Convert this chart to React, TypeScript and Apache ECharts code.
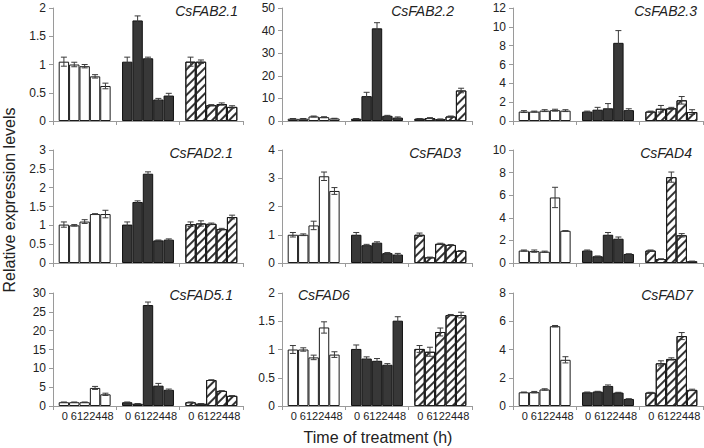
import React, { useEffect, useRef } from 'react';
import * as echarts from 'echarts';

// groups (white, dark, hatched) and time points
const groupNames = ['Group 1', 'Group 2', 'Group 3'];
const timeLabels = ['0', '6', '12', '24', '48'];

const genes = ['CsFAB2.1', 'CsFAB2.2', 'CsFAB2.3', 'CsFAD2.1', 'CsFAD3', 'CsFAD4', 'CsFAD5.1', 'CsFAD6', 'CsFAD7'];
const yMaxes = [2, 50, 12, 3, 4, 10, 30, 2, 8];
const ySteps = [0.5, 10, 2, 0.5, 1, 2, 5, 0.5, 2];
const yDecimals = [1, 0, 0, 1, 0, 0, 0, 1, 0];

// values: 15 per gene (group1 x5, group2 x5, group3 x5)
const fab21 = [1.05, 1.0, 0.97, 0.79, 0.62, 1.05, 1.78, 1.11, 0.38, 0.45, 1.05, 1.05, 0.28, 0.3, 0.25];
const fab21Err = [0.08, 0.04, 0.03, 0.03, 0.05, 0.08, 0.08, 0.02, 0.02, 0.04, 0.08, 0.03, 0.01, 0.02, 0.02];
const fab22 = [1.0, 1.0, 2.0, 1.7, 1.1, 1.0, 11.0, 41.0, 2.3, 1.5, 1.0, 1.3, 0.8, 2.0, 13.5];
const fab22Err = [0.1, 0.1, 0.2, 0.2, 0.1, 0.1, 1.7, 2.5, 0.2, 0.3, 0.1, 0.2, 0.1, 0.2, 1.0];
const fab23 = [1.0, 1.0, 1.1, 1.15, 1.1, 1.0, 1.2, 1.35, 8.3, 1.15, 1.0, 1.3, 1.35, 2.2, 0.95];
const fab23Err = [0.1, 0.05, 0.1, 0.1, 0.1, 0.05, 0.25, 0.5, 1.3, 0.15, 0.05, 0.35, 0.1, 0.4, 0.25];
const fad21 = [1.02, 1.0, 1.1, 1.3, 1.3, 1.02, 1.62, 2.37, 0.6, 0.62, 1.03, 1.05, 1.04, 0.9, 1.22];
const fad21Err = [0.07, 0.02, 0.05, 0.01, 0.1, 0.07, 0.03, 0.05, 0.01, 0.02, 0.06, 0.07, 0.02, 0.02, 0.05];
const fad3 = [1.0, 1.0, 1.33, 3.07, 2.55, 1.0, 0.63, 0.72, 0.35, 0.3, 1.0, 0.2, 0.68, 0.64, 0.43];
const fad3Err = [0.08, 0.03, 0.15, 0.15, 0.12, 0.08, 0.03, 0.03, 0.02, 0.04, 0.06, 0.01, 0.02, 0.01, 0.01];
const fad4 = [1.1, 1.05, 1.0, 5.8, 2.85, 1.1, 0.6, 2.5, 2.15, 0.8, 1.1, 0.35, 7.6, 2.45, 0.15];
const fad4Err = [0.05, 0.1, 0.05, 0.9, 0.01, 0.05, 0.02, 0.2, 0.15, 0.01, 0.05, 0.02, 0.45, 0.15, 0.02];
const fad51 = [1.0, 1.0, 1.0, 4.8, 3.1, 1.0, 0.6, 26.8, 5.4, 4.3, 1.0, 0.6, 6.9, 4.0, 2.7];
const fad51Err = [0.05, 0.05, 0.05, 0.4, 0.3, 0.05, 0.05, 0.8, 0.6, 0.2, 0.05, 0.05, 0.05, 0.05, 0.05];
const fad6 = [1.0, 1.0, 0.86, 1.39, 0.91, 1.01, 0.84, 0.8, 0.73, 1.51, 1.01, 0.96, 1.31, 1.61, 1.61];
const fad6Err = [0.07, 0.03, 0.04, 0.1, 0.05, 0.07, 0.03, 0.04, 0.02, 0.07, 0.06, 0.08, 0.07, 0.01, 0.05];
const fad7 = [0.97, 0.98, 1.17, 5.65, 3.27, 0.97, 1.02, 1.42, 0.95, 0.5, 0.95, 3.02, 3.33, 4.95, 1.14];
const fad7Err = [0.02, 0.05, 0.05, 0.05, 0.22, 0.02, 0.02, 0.07, 0.02, 0.01, 0.02, 0.18, 0.08, 0.25, 0.05];

const values = [fab21, fab22, fab23, fad21, fad3, fad4, fad51, fad6, fad7];
const errors = [fab21Err, fab22Err, fab23Err, fad21Err, fad3Err, fad4Err, fad51Err, fad6Err, fad7Err];

const FONT = '"Liberation Sans", Arial, sans-serif';
const CAT_GAP = 0.18;

const colLefts = [53, 282, 513];
const rowTops = [8, 150, 293];
const gridW = 190;
const gridH = 113;
// title placement: right offset (or left) & top
const titlePos: any[] = [
  { right: 466, top: 4 }, { right: 250, top: 4 }, { right: 7, top: 4 },
  { right: 471, top: 146 }, { right: 243, top: 146 }, { right: 12, top: 146 },
  { right: 471, top: 288 }, { left: 298, top: 288 }, { right: 11, top: 288 },
];

const groupStyles: any[] = [
  { color: '#ffffff', borderColor: '#1a1a1a', borderWidth: 1 },
  { color: '#383838', borderColor: '#111111', borderWidth: 1 },
  {
    color: '#ffffff', borderColor: '#1a1a1a', borderWidth: 1,
    decal: { symbol: 'rect', symbolSize: 1, dashArrayX: [1, 0], dashArrayY: [1.3, 3.2], rotation: -Math.PI / 4, color: '#333333' },
  },
];

function buildOption() {
  const grid: any[] = [], xAxis: any[] = [], yAxis: any[] = [], series: any[] = [], title: any[] = [];
  genes.forEach((gene, p) => {
    const row = Math.floor(p / 3), col = p % 3;
    grid.push({ left: colLefts[col], top: rowTops[row], width: gridW, height: gridH, containLabel: false });
    xAxis.push({
      gridIndex: p, type: 'category', data: groupNames,
      axisLine: { show: true, lineStyle: { color: '#9a9a9a', width: 1 } },
      axisTick: { show: true, length: 4, interval: 0, alignWithLabel: false, lineStyle: { color: '#9a9a9a' } },
      axisLabel: row === 2 ? {
        show: true, interval: 0, margin: 4, fontSize: 11, fontFamily: FONT, color: '#222',
        padding: [0, 0, 0, 6],
        formatter: () => timeLabels[0] + ' ' + timeLabels.slice(1).join(''),
      } : { show: false },
      splitLine: { show: false },
    });
    const dec = yDecimals[p];
    yAxis.push({
      gridIndex: p, type: 'value', min: 0, max: yMaxes[p], interval: ySteps[p],
      axisLine: { show: true, lineStyle: { color: '#9a9a9a', width: 1 } },
      axisTick: { show: true, length: 4, lineStyle: { color: '#9a9a9a' } },
      splitLine: { show: false },
      axisLabel: {
        color: '#222', fontSize: 12, fontFamily: FONT, margin: 7,
        formatter: (v: number) => (dec ? String(Math.round(v * 10) / 10) : String(v)),
      },
    });
    title.push({
      text: gene, ...titlePos[p], padding: 0,
      textStyle: { fontFamily: FONT, fontStyle: 'italic', fontWeight: 'normal', fontSize: 14, color: '#222' },
    });
    const vals = values[p], errs = errors[p];
    timeLabels.forEach((t, ti) => {
      series.push({
        type: 'bar', name: t, xAxisIndex: p, yAxisIndex: p,
        barGap: '0%', barCategoryGap: CAT_GAP * 100 + '%',
        data: groupNames.map((g, gi) => ({ value: vals[gi * 5 + ti], itemStyle: groupStyles[gi] })),
        silent: true,
      });
    });
    const errData: any[] = [];
    for (let gi = 0; gi < 3; gi++) {
      for (let ti = 0; ti < 5; ti++) {
        const v = vals[gi * 5 + ti], e = errs[gi * 5 + ti];
        errData.push([gi, ti, v - e, v + e]);
      }
    }
    series.push({
      type: 'custom', xAxisIndex: p, yAxisIndex: p, data: errData, z: 5, silent: true,
      encode: { x: 0, y: [2, 3] },
      renderItem: (params: any, api: any) => {
        const gi = api.value(0), ti = api.value(1), lo = api.value(2), hi = api.value(3);
        const cw = api.size([1, 0])[0];
        const region = cw * (1 - CAT_GAP);
        const bw = region / 5;
        const cx = api.coord([gi, 0])[0] - region / 2 + (ti + 0.5) * bw;
        const yLo = api.coord([gi, lo])[1];
        const yHi = api.coord([gi, hi])[1];
        const style = { stroke: '#3a3a3a', lineWidth: 1 };
        const hw = 3;
        return {
          type: 'group',
          children: [
            { type: 'line', shape: { x1: cx, y1: yLo, x2: cx, y2: yHi }, style },
            { type: 'line', shape: { x1: cx - hw, y1: yHi, x2: cx + hw, y2: yHi }, style },
            { type: 'line', shape: { x1: cx - hw, y1: yLo, x2: cx + hw, y2: yLo }, style },
          ],
        };
      },
    });
  });

  return {
    animation: false,
    backgroundColor: '#ffffff',
    title,
    grid, xAxis, yAxis, series,
    graphic: [
      {
        type: 'text', x: 9, y: 200, rotation: Math.PI / 2, silent: true,
        style: { text: 'Relative expression levels', fontFamily: FONT, fontSize: 16, fill: '#222', align: 'center', verticalAlign: 'middle' },
      },
      {
        type: 'text', x: 378, y: 437, silent: true,
        style: { text: 'Time of treatment (h)', fontFamily: FONT, fontSize: 16, fill: '#222', align: 'center', verticalAlign: 'middle' },
      },
    ],
  };
}

export default function App() {
  const ref = useRef<HTMLDivElement>(null);
  useEffect(() => {
    if (!ref.current) return;
    const chart = echarts.init(ref.current, null, { renderer: 'svg' });
    chart.setOption(buildOption() as any);
    return () => chart.dispose();
  }, []);
  return <div ref={ref} style={{ position: 'fixed', left: 0, top: 0, width: 704, height: 448, background: '#fff' }} />;
}
